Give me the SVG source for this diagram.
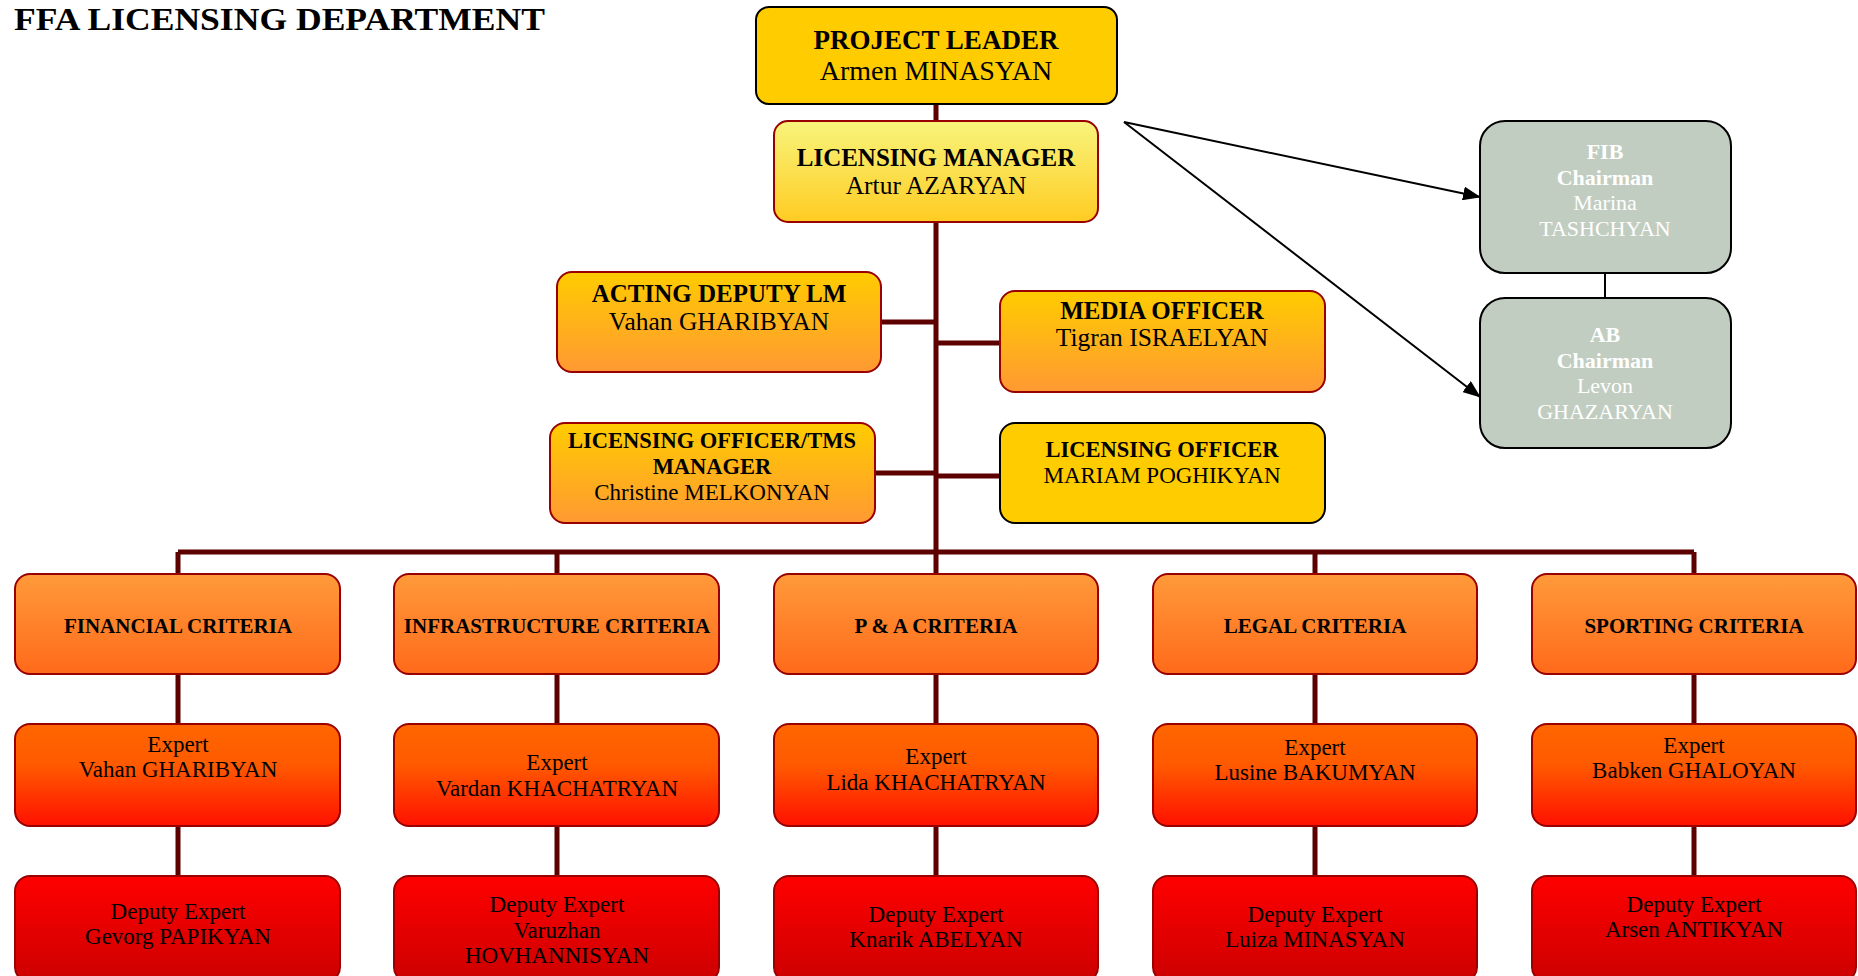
<svg xmlns="http://www.w3.org/2000/svg" width="1858" height="976" viewBox="0 0 1858 976">
<defs>
<linearGradient id="gLM" x1="0" y1="0" x2="0" y2="1"><stop offset="0" stop-color="#F8F47C"/><stop offset="1" stop-color="#FFCC22"/></linearGradient>
<linearGradient id="gMid" x1="0" y1="0" x2="0" y2="1"><stop offset="0" stop-color="#FFCC00"/><stop offset="1" stop-color="#FF9933"/></linearGradient>
<linearGradient id="gCrit" x1="0" y1="0" x2="0" y2="1"><stop offset="0" stop-color="#FF9A3A"/><stop offset="1" stop-color="#FF6A1A"/></linearGradient>
<linearGradient id="gExp" x1="0" y1="0" x2="0" y2="1"><stop offset="0" stop-color="#FF6600"/><stop offset="0.4" stop-color="#FF5A00"/><stop offset="1" stop-color="#FF1100"/></linearGradient>
<linearGradient id="gDep" x1="0" y1="0" x2="0" y2="1"><stop offset="0" stop-color="#FF0000"/><stop offset="1" stop-color="#CC0000"/></linearGradient>
<marker id="arr" markerUnits="userSpaceOnUse" markerWidth="18" markerHeight="14" refX="17" refY="7" orient="auto"><path d="M0 0 L18 7 L0 14 Z" fill="#000"/></marker>
<style>
text{font-family:"Liberation Serif","Times New Roman",serif;text-anchor:middle;fill:#000}
.b{font-weight:bold}
.t{font-size:32px;font-weight:bold;text-anchor:start}
.f27{font-size:27px}
.r27{font-size:28px}
.f25{font-size:25px}
.r25{font-size:25.5px}
.f22{font-size:22.5px}
.r22{font-size:23px}
.f21{font-size:21px}
.w{fill:#fff;font-size:22px}
.redbox{stroke:#990000;stroke-width:2}
.blk{stroke:#000;stroke-width:2}
.conn{stroke:#5C0000;stroke-width:5;fill:none}
.thin{stroke:#000;stroke-width:2;fill:none}
</style>
</defs>
<rect width="1858" height="976" fill="#fff"/>
<text class="t" x="14" y="30" textLength="531" lengthAdjust="spacingAndGlyphs">FFA LICENSING DEPARTMENT</text>

<g id="connectors">
<path class="conn" d="M936 104 V121" stroke="#8B0000"/>
<path class="conn" d="M936 222 V552"/>
<path class="conn" d="M881 322 H936"/>
<path class="conn" d="M936 343 H1000"/>
<path class="conn" d="M875 473 H936"/>
<path class="conn" d="M936 476 H1000"/>
<path class="conn" d="M178 552 H1694"/>
<path class="conn" d="M178 552 V574 M557 552 V574 M936 552 V574 M1315 552 V574 M1694 552 V574"/>
<path class="conn" d="M178 674 V724 M557 674 V724 M936 674 V724 M1315 674 V724 M1694 674 V724"/>
<path class="conn" d="M178 826 V876 M557 826 V876 M936 826 V876 M1315 826 V876 M1694 826 V876"/>
<path class="thin" d="M1605 273 V298"/>
<path class="thin" d="M1124 122 L1480 197" marker-end="url(#arr)"/>
<path class="thin" d="M1124 122 L1480 397" marker-end="url(#arr)"/>
</g>

<g id="project-leader">
<rect x="756" y="7" width="361" height="97" rx="13" fill="#FFCC00" class="blk"/>
<text class="f27 b" x="936" y="49">PROJECT LEADER</text>
<text class="r27" x="936" y="80">Armen MINASYAN</text>
</g>
<g id="licensing-manager">
<rect x="774" y="121" width="324" height="101" rx="14" fill="url(#gLM)" class="redbox"/>
<text class="f25 b" x="936" y="166">LICENSING MANAGER</text>
<text class="r25" x="936" y="194">Artur AZARYAN</text>
</g>
<g id="acting-deputy">
<rect x="557" y="272" width="324" height="100" rx="15" fill="url(#gMid)" class="redbox"/>
<text class="f25 b" x="719" y="302">ACTING DEPUTY LM</text>
<text class="r25" x="719" y="330">Vahan GHARIBYAN</text>
</g>
<g id="media-officer">
<rect x="1000" y="291" width="325" height="101" rx="15" fill="url(#gMid)" class="redbox"/>
<text class="f25 b" x="1162" y="319">MEDIA OFFICER</text>
<text class="r25" x="1162" y="346">Tigran ISRAELYAN</text>
</g>
<g id="licensing-officer-tms">
<rect x="550" y="423" width="325" height="100" rx="15" fill="url(#gMid)" class="redbox"/>
<text class="f22 b" x="712" y="448">LICENSING OFFICER/TMS</text>
<text class="f22 b" x="712" y="474">MANAGER</text>
<text class="r22" x="712" y="500">Christine MELKONYAN</text>
</g>
<g id="licensing-officer">
<rect x="1000" y="423" width="325" height="100" rx="15" fill="#FFCC00" class="blk"/>
<text class="f22 b" x="1162" y="457">LICENSING OFFICER</text>
<text class="r22" x="1162" y="483">MARIAM POGHIKYAN</text>
</g>
<g id="fib">
<rect x="1480" y="121" width="251" height="152" rx="25" fill="#C2CDC1" class="blk"/>
<text class="w b" x="1605" y="159">FIB</text>
<text class="w b" x="1605" y="185">Chairman</text>
<text class="w" x="1605" y="210">Marina</text>
<text class="w" x="1605" y="236">TASHCHYAN</text>
</g>
<g id="ab">
<rect x="1480" y="298" width="251" height="150" rx="25" fill="#C2CDC1" class="blk"/>
<text class="w b" x="1605" y="342">AB</text>
<text class="w b" x="1605" y="368">Chairman</text>
<text class="w" x="1605" y="393">Levon</text>
<text class="w" x="1605" y="419">GHAZARYAN</text>
</g>

<g id="financial-criteria">
<rect x="15" y="574" width="325" height="100" rx="15" fill="url(#gCrit)" class="redbox"/>
<text class="f21 b" x="178" y="633">FINANCIAL CRITERIA</text>
</g>
<g id="infrastructure-criteria">
<rect x="394" y="574" width="325" height="100" rx="15" fill="url(#gCrit)" class="redbox"/>
<text class="f21 b" x="557" y="633">INFRASTRUCTURE CRITERIA</text>
</g>
<g id="pa-criteria">
<rect x="774" y="574" width="324" height="100" rx="15" fill="url(#gCrit)" class="redbox"/>
<text class="f21 b" x="936" y="633">P &amp; A CRITERIA</text>
</g>
<g id="legal-criteria">
<rect x="1153" y="574" width="324" height="100" rx="15" fill="url(#gCrit)" class="redbox"/>
<text class="f21 b" x="1315" y="633">LEGAL CRITERIA</text>
</g>
<g id="sporting-criteria">
<rect x="1532" y="574" width="324" height="100" rx="15" fill="url(#gCrit)" class="redbox"/>
<text class="f21 b" x="1694" y="633">SPORTING CRITERIA</text>
</g>

<g id="expert-financial">
<rect x="15" y="724" width="325" height="102" rx="15" fill="url(#gExp)" class="redbox"/>
<text class="r22" x="178" y="752">Expert</text>
<text class="r22" x="178" y="777">Vahan GHARIBYAN</text>
</g>
<g id="expert-infrastructure">
<rect x="394" y="724" width="325" height="102" rx="15" fill="url(#gExp)" class="redbox"/>
<text class="r22" x="557" y="770">Expert</text>
<text class="r22" x="557" y="796">Vardan KHACHATRYAN</text>
</g>
<g id="expert-pa">
<rect x="774" y="724" width="324" height="102" rx="15" fill="url(#gExp)" class="redbox"/>
<text class="r22" x="936" y="764">Expert</text>
<text class="r22" x="936" y="790">Lida KHACHATRYAN</text>
</g>
<g id="expert-legal">
<rect x="1153" y="724" width="324" height="102" rx="15" fill="url(#gExp)" class="redbox"/>
<text class="r22" x="1315" y="755">Expert</text>
<text class="r22" x="1315" y="780">Lusine BAKUMYAN</text>
</g>
<g id="expert-sporting">
<rect x="1532" y="724" width="324" height="102" rx="15" fill="url(#gExp)" class="redbox"/>
<text class="r22" x="1694" y="753">Expert</text>
<text class="r22" x="1694" y="778">Babken GHALOYAN</text>
</g>

<g id="deputy-financial">
<rect x="15" y="876" width="325" height="106" rx="15" fill="url(#gDep)" class="redbox"/>
<text class="r22" x="178" y="919">Deputy Expert</text>
<text class="r22" x="178" y="944">Gevorg PAPIKYAN</text>
</g>
<g id="deputy-infrastructure">
<rect x="394" y="876" width="325" height="106" rx="15" fill="url(#gDep)" class="redbox"/>
<text class="r22" x="557" y="912">Deputy Expert</text>
<text class="r22" x="557" y="938">Varuzhan</text>
<text class="r22" x="557" y="963">HOVHANNISYAN</text>
</g>
<g id="deputy-pa">
<rect x="774" y="876" width="324" height="106" rx="15" fill="url(#gDep)" class="redbox"/>
<text class="r22" x="936" y="922">Deputy Expert</text>
<text class="r22" x="936" y="947">Knarik ABELYAN</text>
</g>
<g id="deputy-legal">
<rect x="1153" y="876" width="324" height="106" rx="15" fill="url(#gDep)" class="redbox"/>
<text class="r22" x="1315" y="922">Deputy Expert</text>
<text class="r22" x="1315" y="947">Luiza MINASYAN</text>
</g>
<g id="deputy-sporting">
<rect x="1532" y="876" width="324" height="106" rx="15" fill="url(#gDep)" class="redbox"/>
<text class="r22" x="1694" y="912">Deputy Expert</text>
<text class="r22" x="1694" y="937">Arsen ANTIKYAN</text>
</g>
</svg>
